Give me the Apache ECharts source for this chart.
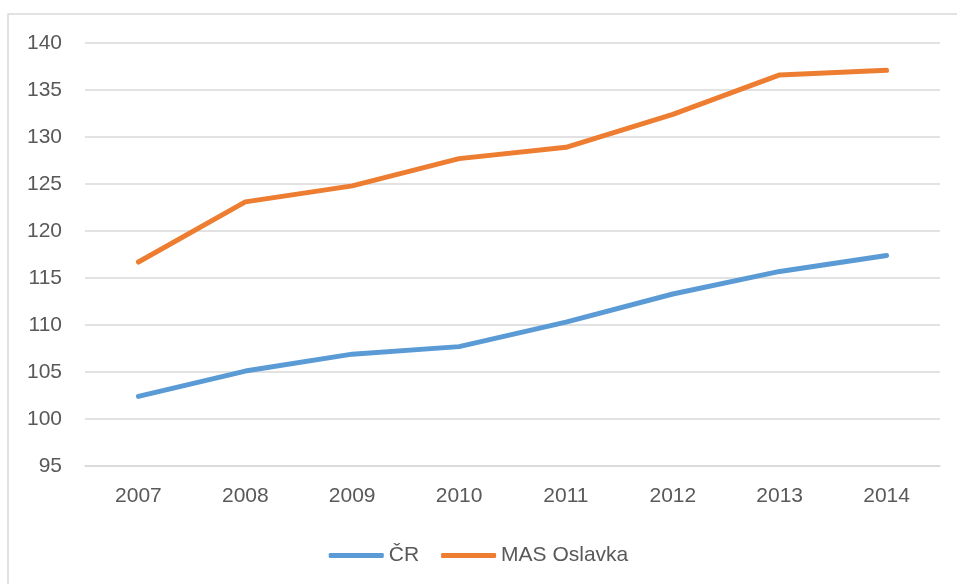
<!DOCTYPE html>
<html>
<head>
<meta charset="utf-8">
<script src="https://cdn.jsdelivr.net/npm/echarts@6/dist/echarts.min.js"></script>
<style>
  html, body { margin: 0; padding: 0; background: #fff; }
  #chart { width: 957px; height: 584px; }
</style>
</head>
<body>
<div id="chart"></div>
<script>
const years = ['2007', '2008', '2009', '2010', '2011', '2012', '2013', '2014'];
const cr = [102.4, 105.1, 106.9, 107.7, 110.3, 113.3, 115.7, 117.4];
const masOslavka = [116.7, 123.1, 124.8, 127.7, 128.9, 132.4, 136.6, 137.1];

const chart = echarts.init(document.getElementById('chart'));
const textColor = '#595959';
const gridColor = '#d9d9d9';

chart.setOption({
  animation: false,
  textStyle: { fontFamily: 'Liberation Sans' },
  graphic: [{
    type: 'rect',
    shape: { x: 8, y: 14, width: 1200, height: 1000 },
    style: { fill: 'none', stroke: gridColor, lineWidth: 1.5 },
    silent: true
  }],
  grid: { left: 85, right: 17, top: 43, bottom: 118 },
  legend: {
    top: 540,
    left: 'center',
    icon: 'roundRect',
    itemWidth: 55,
    itemHeight: 5,
    itemGap: 22,
    textStyle: { color: textColor, fontSize: 21 },
    data: ['ČR', 'MAS Oslavka']
  },
  xAxis: {
    type: 'category',
    data: years,
    boundaryGap: true,
    axisLine: { lineStyle: { color: gridColor, width: 1.5 } },
    axisTick: { show: false },
    axisLabel: { color: textColor, fontSize: 21, margin: 20 }
  },
  yAxis: {
    type: 'value',
    min: 95,
    max: 140,
    interval: 5,
    axisLine: { show: false },
    axisTick: { show: false },
    axisLabel: { color: textColor, fontSize: 21, margin: 23 },
    splitLine: { lineStyle: { color: gridColor, width: 1.5 } }
  },
  series: [
    {
      name: 'ČR',
      type: 'line',
      data: cr,
      showSymbol: false,
      color: '#5B9BD5',
      lineStyle: { width: 5, cap: 'round', join: 'round' }
    },
    {
      name: 'MAS Oslavka',
      type: 'line',
      data: masOslavka,
      showSymbol: false,
      color: '#ED7D31',
      lineStyle: { width: 5, cap: 'round', join: 'round' }
    }
  ]
});
</script>
</body>
</html>
